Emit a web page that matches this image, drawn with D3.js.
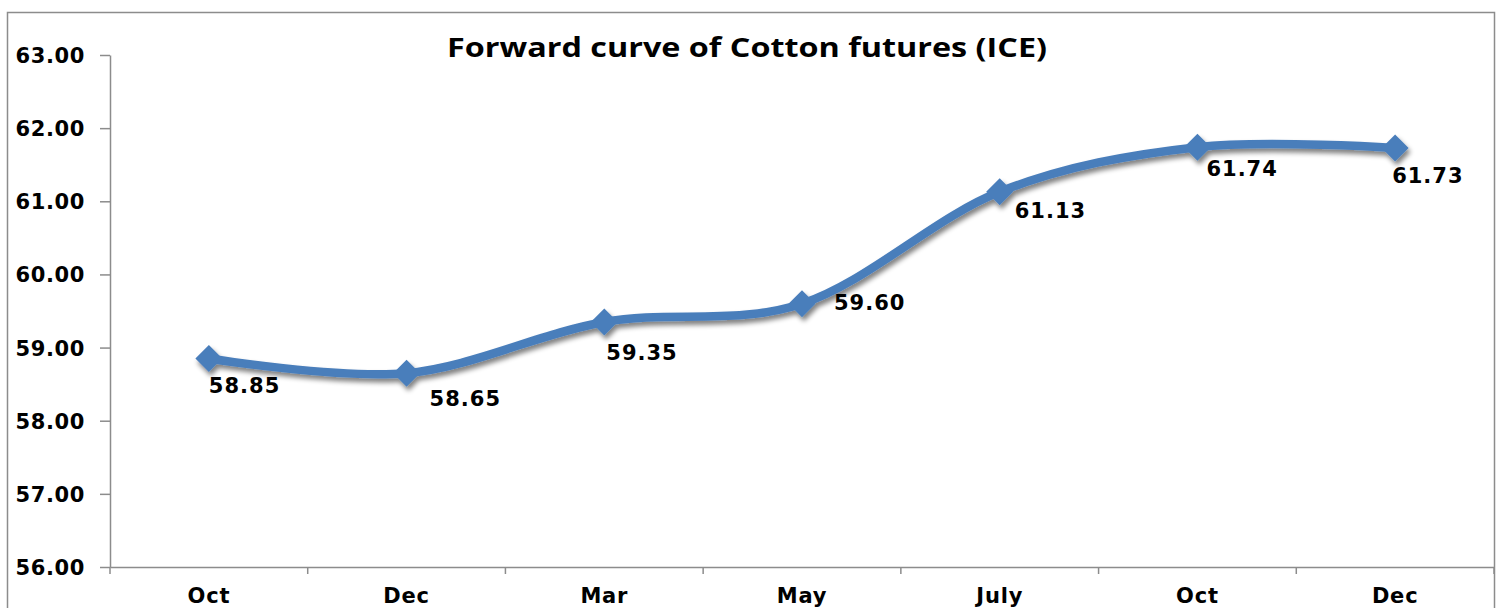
<!DOCTYPE html>
<html>
<head>
<meta charset="utf-8">
<script src="https://cdn.jsdelivr.net/npm/d3@7"></script>
<style>
  html, body { margin: 0; padding: 0; background: #fff; }
  svg { display: block; }
</style>
</head>
<body>
<svg id="chart" width="1499" height="608"></svg>
<script>
const categories = ["Oct", "Dec", "Mar", "May", "July", "Oct", "Dec"];
const prices = [58.85, 58.65, 59.35, 59.60, 61.13, 61.74, 61.73];
const yTicks = [56, 57, 58, 59, 60, 61, 62, 63];
const title = "Forward curve of Cotton futures (ICE)";
// label placement relative to each point (style only)
const labelOffsets = [[0, 34], [23, 33], [2, 38], [32, 6], [15, 26], [9, 29], [-3, 35]];

const svg = d3.select("#chart");
const m = { left: 110, right: 1494, top: 55, bottom: 567 };

const defs = svg.append("defs");
const f = defs.append("filter").attr("id", "shadow")
  .attr("x", "-10%").attr("y", "-30%").attr("width", "120%").attr("height", "160%");
f.append("feGaussianBlur").attr("in", "SourceAlpha").attr("stdDeviation", 2.4).attr("result", "b");
f.append("feOffset").attr("in", "b").attr("dx", 2).attr("dy", 3.5).attr("result", "o");
f.append("feComponentTransfer").attr("in", "o").attr("result", "s")
  .append("feFuncA").attr("type", "linear").attr("slope", 0.5);
const fm = f.append("feMerge");
fm.append("feMergeNode").attr("in", "s");
fm.append("feMergeNode").attr("in", "SourceGraphic");

// outer frame
svg.append("rect").attr("x", 7.5).attr("y", 12.5).attr("width", 1487).attr("height", 620)
  .attr("fill", "#fff").attr("stroke", "#8c8c8c").attr("stroke-width", 1.5);

const x = d3.scaleBand().domain(d3.range(categories.length)).range([m.left, m.right]).padding(0);
const y = d3.scaleLinear().domain([56, 63]).range([m.bottom, m.top]);

// Y axis
const yAxis = svg.append("g").attr("transform", `translate(${m.left},0)`)
  .call(d3.axisLeft(y).tickValues(yTicks).tickSize(10).tickSizeOuter(0).tickFormat(d3.format(".2f")));
yAxis.select(".domain").attr("stroke", "#8c8c8c").attr("stroke-width", 1.5);
yAxis.selectAll(".tick line").attr("stroke", "#8c8c8c").attr("stroke-width", 1.5);
yAxis.selectAll(".tick text")
  .attr("x", -25).attr("dy", "0.36em")
  .attr("fill", "#000")
  .style("font-family", "'DejaVu Sans', Verdana, sans-serif")
  .style("font-weight", "bold").style("font-size", "21px").style("letter-spacing", "0.6px");

// X axis
const xAxis = svg.append("g").attr("transform", `translate(0,${m.bottom})`)
  .call(d3.axisBottom(x).tickSize(0).tickSizeOuter(0).tickFormat(i => categories[i]));
xAxis.select(".domain").attr("stroke", "#8c8c8c").attr("stroke-width", 1.5);
xAxis.selectAll(".tick text")
  .attr("y", 36).attr("dy", 0)
  .attr("fill", "#000")
  .style("font-family", "'DejaVu Sans', Verdana, sans-serif")
  .style("font-weight", "bold").style("font-size", "21px").style("letter-spacing", "0.8px");
// boundary tick marks
xAxis.selectAll(".bound").data(d3.range(categories.length + 1)).enter().append("line")
  .attr("x1", i => m.left + i * x.bandwidth()).attr("x2", i => m.left + i * x.bandwidth())
  .attr("y1", 0).attr("y2", 7).attr("stroke", "#8c8c8c").attr("stroke-width", 1.5);

// Title
svg.append("text").attr("x", 747).attr("y", 57).attr("text-anchor", "middle")
  .style("font-family", "'Open Sans', 'Noto Sans', sans-serif")
  .style("font-weight", "bold").style("font-size", "26px")
  .attr("textLength", 600).attr("lengthAdjust", "spacingAndGlyphs")
  .attr("fill", "#000").text(title);

const pts = prices.map((v, i) => [x(i) + x.bandwidth() / 2, y(v)]);
const color = "#4a7ebb";

const g = svg.append("g").attr("filter", "url(#shadow)");
g.append("path").datum(pts)
  .attr("d", d3.line().curve(d3.curveCardinal.tension(0)))
  .attr("fill", "none").attr("stroke", color).attr("stroke-width", 8.5)
  .attr("stroke-linecap", "round").attr("stroke-linejoin", "round");

const r = 13.5;
g.selectAll(".mk").data(pts).enter().append("path")
  .attr("d", d => `M${d[0]},${d[1] - r}L${d[0] + r},${d[1]}L${d[0]},${d[1] + r}L${d[0] - r},${d[1]}Z`)
  .attr("fill", color);

svg.selectAll(".lbl").data(prices).enter().append("text")
  .attr("x", (d, i) => pts[i][0] + labelOffsets[i][0])
  .attr("y", (d, i) => pts[i][1] + labelOffsets[i][1])
  .style("font-family", "'DejaVu Sans', Verdana, sans-serif")
  .style("font-weight", "bold").style("font-size", "21px").style("letter-spacing", "1px")
  .attr("fill", "#000")
  .text(d => d.toFixed(2));
</script>
</body>
</html>
